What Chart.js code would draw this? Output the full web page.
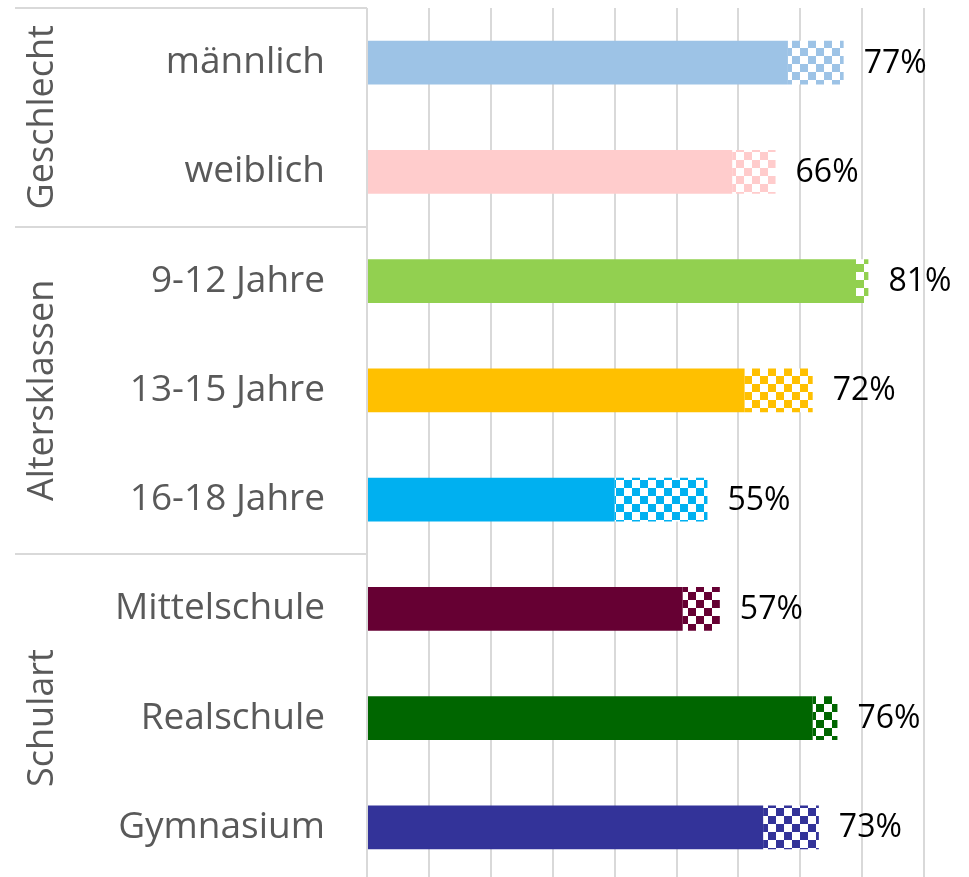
<!DOCTYPE html>
<html lang="de">
<head>
<meta charset="utf-8">
<title>Anteile nach Geschlecht, Altersklassen und Schulart</title>
<script src="https://cdn.jsdelivr.net/npm/chart.js@4.4.1/dist/chart.umd.min.js"></script>
<style>
    html, body { margin: 0; padding: 0; overflow: hidden; background: #ffffff; }
    .chart-container { position: absolute; left: 0; top: 0; width: 986px; height: 882px; }
</style>
</head>
<body>
<div class="chart-container">
    <canvas id="myChart"></canvas>
</div>
<script>
// Kategorien und Gruppen
const kategorien = ['männlich', 'weiblich', '9-12 Jahre', '13-15 Jahre', '16-18 Jahre', 'Mittelschule', 'Realschule', 'Gymnasium'];
const gruppen = ['Geschlecht', 'Altersklassen', 'Schulart'];
const gruppenGroesse = [2, 3, 3];

// Werte in % : voller Balken + karierter Rest
const basis = [68, 59, 79, 61, 40, 51, 72, 64];
const rest = [9, 7, 2, 11, 15, 6, 4, 9];

// Farben je Kategorie
const farben = ['#9DC3E6', '#FFCCCC', '#92D050', '#FFC000', '#00B0F0', '#660033', '#006600', '#333399'];

const schrift = '"Open Sans", sans-serif';
const grauLinie = '#D9D9D9';

const ctx = document.getElementById('myChart').getContext('2d');

// Schachbrettmuster für den karierten Teil
function kariert(farbe) {
    const c = document.createElement('canvas');
    c.width = 16;
    c.height = 16;
    const g = c.getContext('2d');
    g.fillStyle = '#ffffff';
    g.fillRect(0, 0, 16, 16);
    g.fillStyle = farbe;
    g.fillRect(0, 0, 8, 8);
    g.fillRect(8, 8, 8, 8);
    return ctx.createPattern(c, 'repeat');
}

// Gruppenlinien, Gruppennamen und Prozentwerte
const beschriftung = {
    id: 'beschriftung',
    afterDraw(chart) {
        const c = chart.ctx;
        const area = chart.chartArea;
        const y = chart.scales.y;
        const x = chart.scales.x;
        const schritt = (area.bottom - area.top) / kategorien.length;

        c.save();
        // Trennlinien zwischen den Gruppen
        c.strokeStyle = grauLinie;
        c.lineWidth = 2;
        let start = 0;
        const grenzen = [0];
        gruppenGroesse.forEach(n => { start += n; grenzen.push(start); });
        grenzen.forEach(k => {
            const py = Math.round(area.top + k * schritt);
            c.beginPath();
            c.moveTo(15, py);
            c.lineTo(area.left, py);
            c.stroke();
        });

        // Gruppennamen senkrecht
        c.fillStyle = '#595959';
        c.font = '36px ' + schrift;
        c.textAlign = 'center';
        c.textBaseline = 'middle';
        gruppen.forEach((name, i) => {
            const mitte = area.top + (grenzen[i] + grenzen[i + 1]) / 2 * schritt;
            c.save();
            c.translate(43, mitte);
            c.rotate(-Math.PI / 2);
            c.fillText(name, 0, 0);
            c.restore();
        });

        // Prozentwerte rechts neben den Balken
        c.fillStyle = '#000000';
        c.font = '32px ' + schrift;
        c.textAlign = 'left';
        kategorien.forEach((k, i) => {
            const gesamt = basis[i] + rest[i];
            const px = x.getPixelForValue(gesamt) + 20;
            const py = y.getPixelForValue(i) + 1;
            c.fillText(gesamt + '%', px, py);
        });
        c.restore();
    }
};

const config = {
    type: 'bar',
    data: {
        labels: kategorien,
        datasets: [{
            label: 'Basis',
            data: basis,
            backgroundColor: farben,
            borderWidth: 0
        },
        {
            label: 'Rest',
            data: rest,
            backgroundColor: farben.map(kariert),
            borderWidth: 0
        }]
    },
    options: {
        indexAxis: 'y',
        responsive: true,
        maintainAspectRatio: false,
        animation: false,
        layout: {
            padding: { top: 8, right: 0, bottom: 0, left: 0 }
        },
        datasets: {
            bar: {
                categoryPercentage: 1,
                barPercentage: 0.4
            }
        },
        scales: {
            x: {
                stacked: true,
                min: 0,
                max: 100,
                ticks: { display: false, stepSize: 10 },
                grid: { color: grauLinie, lineWidth: 2, drawTicks: false },
                border: { display: false },
                afterFit(scale) { scale.height = 0; }
            },
            y: {
                stacked: true,
                ticks: {
                    color: '#595959',
                    padding: 42,
                    font: { family: schrift, size: 37 }
                },
                grid: { display: false, drawTicks: false },
                border: { display: false },
                afterFit(scale) {
                    scale.width = 367;
                    scale.paddingTop = 0;
                    scale.paddingBottom = 0;
                }
            }
        },
        plugins: {
            legend: { display: false },
            tooltip: { enabled: false }
        }
    },
    plugins: [beschriftung]
};

new Chart(ctx, config);
</script>
</body>
</html>
